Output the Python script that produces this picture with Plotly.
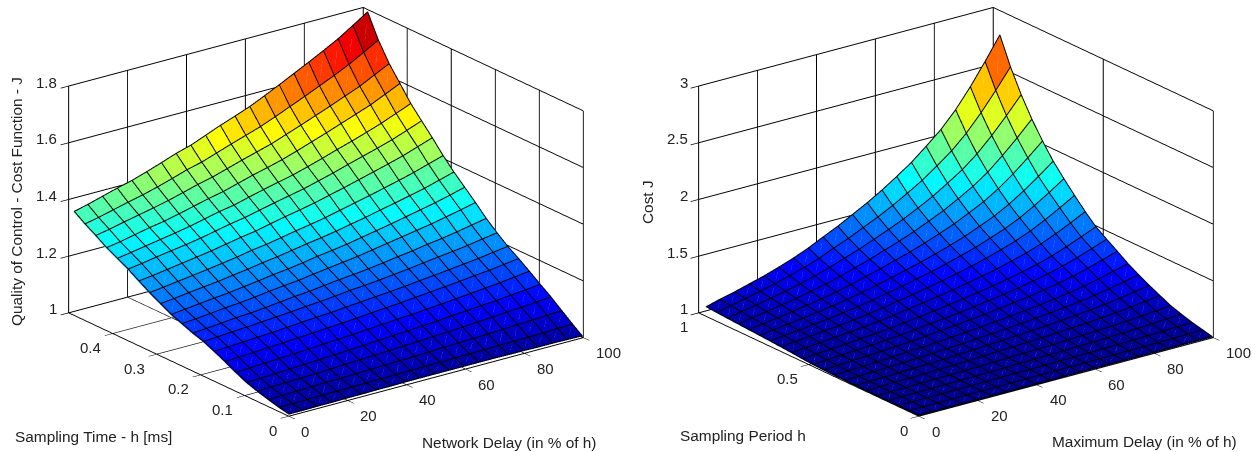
import plotly.graph_objects as go

delay_left = [0,5,10,15,20,25,30,35,40,45,50,55,60,65,70,75,80,85,90,95,100]
h_left = [0,0.0245,0.049,0.0735,0.098,0.1225,0.147,0.1715,0.196,0.2205,0.245,0.2695,0.294,0.3185,0.343,0.3675,0.392,0.4165,0.441,0.4655,0.49]
cost_left = [
[1.005,1.005,1.006,1.006,1.007,1.007,1.008,1.008,1.009,1.009,1.009,1.009,1.009,1.009,1.009,1.008,1.008,1.007,1.007,1.006,1.005],
[1.013,1.013,1.014,1.015,1.015,1.016,1.017,1.017,1.018,1.019,1.020,1.020,1.021,1.022,1.023,1.024,1.025,1.026,1.027,1.029,1.030],
[1.023,1.024,1.025,1.027,1.028,1.029,1.031,1.032,1.034,1.036,1.037,1.039,1.041,1.043,1.045,1.047,1.049,1.052,1.054,1.057,1.060],
[1.034,1.036,1.038,1.039,1.041,1.043,1.046,1.048,1.050,1.053,1.056,1.058,1.061,1.064,1.067,1.071,1.074,1.078,1.081,1.086,1.090],
[1.047,1.049,1.051,1.054,1.056,1.059,1.062,1.065,1.067,1.071,1.074,1.077,1.081,1.084,1.089,1.093,1.097,1.101,1.106,1.111,1.117],
[1.065,1.067,1.070,1.073,1.075,1.078,1.082,1.085,1.088,1.092,1.096,1.100,1.103,1.108,1.112,1.117,1.122,1.127,1.132,1.139,1.145],
[1.085,1.087,1.090,1.094,1.096,1.100,1.103,1.107,1.110,1.114,1.119,1.123,1.127,1.132,1.137,1.142,1.147,1.153,1.158,1.165,1.172],
[1.103,1.106,1.109,1.112,1.115,1.119,1.123,1.127,1.130,1.135,1.139,1.144,1.148,1.153,1.159,1.164,1.170,1.176,1.182,1.190,1.197],
[1.120,1.123,1.127,1.130,1.134,1.138,1.142,1.147,1.151,1.156,1.162,1.166,1.171,1.177,1.183,1.190,1.197,1.203,1.210,1.219,1.227],
[1.132,1.135,1.140,1.145,1.148,1.153,1.159,1.165,1.169,1.176,1.182,1.187,1.193,1.200,1.208,1.215,1.224,1.231,1.240,1.250,1.260],
[1.147,1.151,1.156,1.162,1.166,1.172,1.179,1.185,1.190,1.198,1.205,1.212,1.219,1.228,1.237,1.246,1.255,1.264,1.275,1.286,1.298],
[1.162,1.167,1.173,1.179,1.184,1.191,1.198,1.206,1.212,1.220,1.229,1.236,1.244,1.254,1.264,1.274,1.285,1.296,1.307,1.320,1.334],
[1.182,1.187,1.194,1.200,1.206,1.214,1.221,1.230,1.237,1.246,1.255,1.263,1.272,1.283,1.293,1.305,1.316,1.328,1.340,1.355,1.370],
[1.203,1.209,1.216,1.223,1.230,1.238,1.246,1.256,1.263,1.273,1.283,1.292,1.302,1.314,1.326,1.338,1.351,1.364,1.378,1.394,1.410],
[1.226,1.232,1.240,1.248,1.256,1.264,1.274,1.284,1.292,1.304,1.315,1.325,1.336,1.349,1.362,1.376,1.390,1.404,1.419,1.437,1.455],
[1.250,1.257,1.266,1.274,1.282,1.291,1.302,1.313,1.322,1.334,1.346,1.357,1.368,1.382,1.396,1.412,1.427,1.442,1.458,1.477,1.497],
[1.270,1.278,1.287,1.296,1.305,1.315,1.327,1.339,1.348,1.362,1.375,1.387,1.399,1.414,1.430,1.447,1.463,1.480,1.498,1.519,1.540],
[1.290,1.298,1.309,1.320,1.329,1.341,1.354,1.367,1.378,1.393,1.408,1.421,1.435,1.452,1.470,1.488,1.507,1.526,1.545,1.569,1.593],
[1.315,1.324,1.336,1.347,1.358,1.370,1.384,1.399,1.411,1.427,1.443,1.458,1.473,1.492,1.511,1.531,1.551,1.572,1.593,1.619,1.645],
[1.338,1.348,1.361,1.374,1.386,1.400,1.416,1.433,1.446,1.464,1.482,1.499,1.516,1.537,1.559,1.581,1.604,1.627,1.652,1.681,1.710],
[1.364,1.376,1.391,1.406,1.419,1.436,1.454,1.473,1.488,1.509,1.530,1.549,1.569,1.593,1.618,1.644,1.670,1.697,1.725,1.758,1.792],
]

delay_right = [0,5,10,15,20,25,30,35,40,45,50,55,60,65,70,75,80,85,90,95,100]
h_right = [0,0.0485,0.097,0.1455,0.194,0.2425,0.291,0.3395,0.388,0.4365,0.485,0.5335,0.582,0.6305,0.679,0.7275,0.776,0.8245,0.873,0.9215,0.97]
cost_right = [
[1.003,1.003,1.003,1.003,1.003,1.003,1.003,1.003,1.003,1.003,1.004,1.004,1.004,1.004,1.004,1.004,1.004,1.004,1.005,1.005,1.005],
[1.003,1.003,1.004,1.004,1.005,1.005,1.006,1.007,1.007,1.008,1.009,1.010,1.011,1.012,1.013,1.015,1.016,1.018,1.020,1.022,1.025],
[1.003,1.004,1.005,1.006,1.007,1.008,1.009,1.010,1.012,1.013,1.015,1.017,1.019,1.021,1.023,1.026,1.029,1.033,1.037,1.042,1.047],
[1.003,1.004,1.006,1.007,1.009,1.010,1.012,1.015,1.017,1.020,1.023,1.026,1.029,1.033,1.036,1.041,1.046,1.052,1.059,1.067,1.075],
[1.003,1.005,1.007,1.009,1.011,1.014,1.016,1.020,1.023,1.027,1.031,1.035,1.040,1.045,1.051,1.057,1.064,1.072,1.083,1.094,1.106],
[1.003,1.006,1.009,1.012,1.015,1.018,1.022,1.027,1.032,1.038,1.044,1.050,1.056,1.064,1.072,1.081,1.091,1.103,1.117,1.134,1.151],
[1.004,1.008,1.011,1.015,1.019,1.024,1.029,1.035,1.042,1.049,1.057,1.064,1.073,1.083,1.093,1.105,1.118,1.133,1.152,1.174,1.196],
[1.005,1.010,1.014,1.019,1.024,1.030,1.037,1.044,1.053,1.061,1.071,1.081,1.092,1.104,1.117,1.132,1.148,1.167,1.191,1.218,1.246],
[1.006,1.012,1.017,1.023,1.030,1.037,1.045,1.054,1.065,1.075,1.087,1.099,1.112,1.127,1.142,1.161,1.180,1.204,1.233,1.266,1.300],
[1.008,1.015,1.022,1.029,1.037,1.045,1.055,1.066,1.079,1.092,1.106,1.120,1.137,1.154,1.173,1.196,1.219,1.249,1.284,1.323,1.365],
[1.012,1.020,1.028,1.036,1.045,1.055,1.066,1.079,1.095,1.109,1.126,1.143,1.161,1.182,1.204,1.230,1.258,1.292,1.333,1.378,1.427],
[1.019,1.028,1.037,1.047,1.057,1.068,1.081,1.096,1.113,1.130,1.149,1.168,1.189,1.213,1.238,1.268,1.299,1.338,1.385,1.437,1.492],
[1.028,1.039,1.049,1.061,1.072,1.086,1.100,1.118,1.138,1.157,1.180,1.202,1.227,1.255,1.284,1.319,1.355,1.401,1.455,1.516,1.581],
[1.035,1.048,1.060,1.073,1.087,1.102,1.119,1.139,1.163,1.186,1.212,1.238,1.267,1.299,1.334,1.374,1.417,1.470,1.534,1.605,1.680],
[1.042,1.057,1.070,1.086,1.101,1.119,1.139,1.162,1.189,1.215,1.246,1.275,1.309,1.346,1.385,1.432,1.481,1.541,1.615,1.696,1.783],
[1.048,1.065,1.080,1.098,1.116,1.136,1.159,1.185,1.216,1.246,1.280,1.314,1.352,1.394,1.439,1.492,1.548,1.618,1.701,1.794,1.893],
[1.054,1.073,1.091,1.111,1.132,1.155,1.181,1.212,1.248,1.282,1.322,1.360,1.404,1.453,1.504,1.566,1.630,1.710,1.806,1.913,2.027],
[1.060,1.082,1.102,1.126,1.149,1.176,1.206,1.241,1.282,1.321,1.367,1.412,1.462,1.518,1.577,1.647,1.721,1.812,1.923,2.045,2.176],
[1.066,1.092,1.115,1.142,1.168,1.199,1.234,1.274,1.321,1.366,1.418,1.470,1.527,1.591,1.659,1.740,1.824,1.929,2.056,2.197,2.347],
[1.072,1.102,1.128,1.159,1.190,1.226,1.265,1.311,1.366,1.417,1.478,1.537,1.603,1.677,1.755,1.848,1.946,2.067,2.213,2.375,2.548],
[1.080,1.114,1.144,1.180,1.216,1.258,1.304,1.357,1.420,1.480,1.549,1.618,1.695,1.780,1.870,1.977,2.090,2.230,2.398,2.586,2.786],
]

delay_ticks = [0,20,40,60,80,100]
delay_tick_text = ["0","20","40","60","80","100"]
h_ticks_left = [0,0.1,0.2,0.3,0.4,0.5]
h_text_left = ["0","0.1","0.2","0.3","0.4",""]
z_ticks_left = [1,1.2,1.4,1.6,1.8]
z_text_left = ["1","1.2","1.4","1.6","1.8"]
h_ticks_right = [0,0.5,1]
h_text_right = ["0","0.5","1"]
z_ticks_right = [1,1.5,2,2.5,3]
z_text_right = ["1","1.5","2","2.5","3"]

JET = [[0,"rgb(0,0,143)"],[0.125,"rgb(0,0,255)"],[0.375,"rgb(0,255,255)"],
       [0.625,"rgb(255,255,0)"],[0.875,"rgb(255,0,0)"],[1,"rgb(128,0,0)"]]
FONT = "Liberation Sans, Arial, sans-serif"
TEXT_COLOR = "#222222"
EYE_DIR = (-0.563, -0.747, 0.354)
EYE_R = 5.0
CENTER_Z = -0.067
ASPECT = dict(x=1.632, y=1.618, z=1.073)
EYE = dict(x=EYE_DIR[0]*EYE_R, y=EYE_DIR[1]*EYE_R, z=EYE_DIR[2]*EYE_R + CENTER_Z)
TOWARD_EYE = 0.012


def add_surface(fig, xs, ys, zs, xr, yr, zr, cmin, cmax, color_row, scene):
    nx, ny = len(xs), len(ys)
    vx, vy, vz = [], [], []
    for j in range(ny):
        for i in range(nx):
            vx.append(xs[i]); vy.append(ys[j]); vz.append(zs[j][i])
    ti, tj, tk, colors = [], [], [], []
    for j in range(ny - 1):
        for i in range(nx - 1):
            a = j*nx + i; b = a + 1; c = a + nx; d = c + 1
            ti += [a, a]; tj += [b, d]; tk += [d, c]
            colors += [zs[j + color_row][i]] * 2
    fig.add_trace(go.Mesh3d(x=vx, y=vy, z=vz, i=ti, j=tj, k=tk, intensity=colors,
                            intensitymode="cell", colorscale=JET, cmin=cmin, cmax=cmax,
                            showscale=False, hoverinfo="skip",
                            lighting=dict(ambient=1, diffuse=0, specular=0, roughness=1, fresnel=0,
                                          facenormalsepsilon=0, vertexnormalsepsilon=0),
                            scene=scene))
    dx = EYE_DIR[0]*TOWARD_EYE*(xr[1]-xr[0])/ASPECT["x"]
    dy = EYE_DIR[1]*TOWARD_EYE*(yr[1]-yr[0])/ASPECT["y"]
    dz = EYE_DIR[2]*TOWARD_EYE*(zr[1]-zr[0])/ASPECT["z"]

    def near(i, j):
        return (max(xs[i]+dx, xr[0]), max(ys[j]+dy, yr[0]), min(zs[j][i]+dz, zr[1]))

    lx, ly, lz = [], [], []
    for j in range(ny):
        for i in range(nx):
            p = near(i, j); lx.append(p[0]); ly.append(p[1]); lz.append(p[2])
        lx.append(None); ly.append(None); lz.append(None)
    for i in range(nx):
        for j in range(ny):
            p = near(i, j); lx.append(p[0]); ly.append(p[1]); lz.append(p[2])
        lx.append(None); ly.append(None); lz.append(None)
    fig.add_trace(go.Scatter3d(x=lx, y=ly, z=lz, mode="lines", line=dict(color="black", width=2),
                               hoverinfo="skip", showlegend=False, scene=scene))
    sx, sy, sz = [], [], []
    for j in range(ny - 1):
        for i in range(nx - 1):
            p = near(i, j); q = near(i + 1, j + 1)
            for s in (0.3, 0.7):
                sx.append(p[0]+(q[0]-p[0])*s); sy.append(p[1]+(q[1]-p[1])*s); sz.append(p[2]+(q[2]-p[2])*s)
            sx.append(None); sy.append(None); sz.append(None)
    fig.add_trace(go.Scatter3d(x=sx, y=sy, z=sz, mode="lines", opacity=0.25,
                               line=dict(color="white", width=1),
                               hoverinfo="skip", showlegend=False, scene=scene))


def axis(rng, vals):
    return dict(range=rng, tickmode="array", tickvals=vals, title=dict(text=""),
                showbackground=False, showgrid=True, gridcolor="black", gridwidth=2,
                zeroline=False, showline=True, linecolor="black", linewidth=2, mirror=False,
                ticks="outside", ticklen=10, tickcolor="black", tickwidth=1.5, showspikes=False,
                showticklabels=False)


def tick_labels(xt, xl, yt, yl, ymax, zt, zl):
    out = []
    font = dict(family=FONT, size=15, color=TEXT_COLOR)
    for v, s in zip(xt, xl):
        out.append(dict(x=v, y=0, z=zt[0], text=s, showarrow=False, xanchor="left", yanchor="middle",
                        xshift=11, yshift=-15, font=font))
    for v, s in zip(yt, yl):
        if s:
            out.append(dict(x=0, y=v, z=zt[0], text=s, showarrow=False, xanchor="right", yanchor="middle",
                            xshift=-9, yshift=-14, font=font))
    for v, s in zip(zt, zl):
        out.append(dict(x=0, y=ymax, z=v, text=s, showarrow=False, xanchor="right", yanchor="middle",
                        xshift=-9, yshift=4, font=font))
    return out


def scene_layout(xa, ya, za, domx, anns):
    return dict(domain=dict(x=domx, y=[0, 1]), xaxis=xa, yaxis=ya, zaxis=za, annotations=anns,
                aspectmode="manual", aspectratio=ASPECT,
                camera=dict(eye=EYE, up=dict(x=0, y=0, z=1), center=dict(x=0, y=0, z=CENTER_Z),
                            projection=dict(type="orthographic")))


fig = go.Figure()
add_surface(fig, delay_left, h_left, cost_left, [0, 100], [0, 0.5], [1, 1.8], 1, 1.82, 1, "scene")
add_surface(fig, delay_right, h_right, cost_right, [0, 100], [0, 1], [1, 3], 1, 2.786, 0, "scene2")

titles = [
    ("Sampling Time - h [ms]", 13, 436, 0),
    ("Network Delay (in % of h)", 420, 442, 0),
    ("Quality of Control - Cost Function - J", 17, 202, -90),
    ("Sampling Period h", 678, 435, 0),
    ("Maximum Delay (in % of h)", 1050, 441, 0),
    ("Cost J", 648, 202, -90),
]
anns = []
for text, px, py, rot in titles:
    anns.append(dict(text=text, x=px/1258, y=1-py/452, xref="paper", yref="paper", showarrow=False,
                     xanchor="left" if rot == 0 else "center", yanchor="middle", textangle=rot,
                     font=dict(family=FONT, size=15.4, color=TEXT_COLOR)))

fig.update_layout(
    width=1258, height=452, margin=dict(l=0, r=0, t=0, b=0), paper_bgcolor="white", showlegend=False,
    annotations=anns,
    scene=scene_layout(axis([0, 100], delay_ticks), axis([0, 0.5], h_ticks_left), axis([1, 1.8], z_ticks_left),
                       [5.5/1258, 645.5/1258],
                       tick_labels(delay_ticks, delay_tick_text, h_ticks_left, h_text_left, 0.5, z_ticks_left, z_text_left)),
    scene2=scene_layout(axis([0, 100], delay_ticks), axis([0, 1], h_ticks_right), axis([1, 3], z_ticks_right),
                        [656/1258, 1256/1258],
                        tick_labels(delay_ticks, delay_tick_text, h_ticks_right, h_text_right, 1, z_ticks_right, z_text_right)),
)
fig.write_html("out.html", config=dict(displayModeBar=False),
               post_script="document.body.style.margin='0';document.documentElement.style.overflow='hidden';")
